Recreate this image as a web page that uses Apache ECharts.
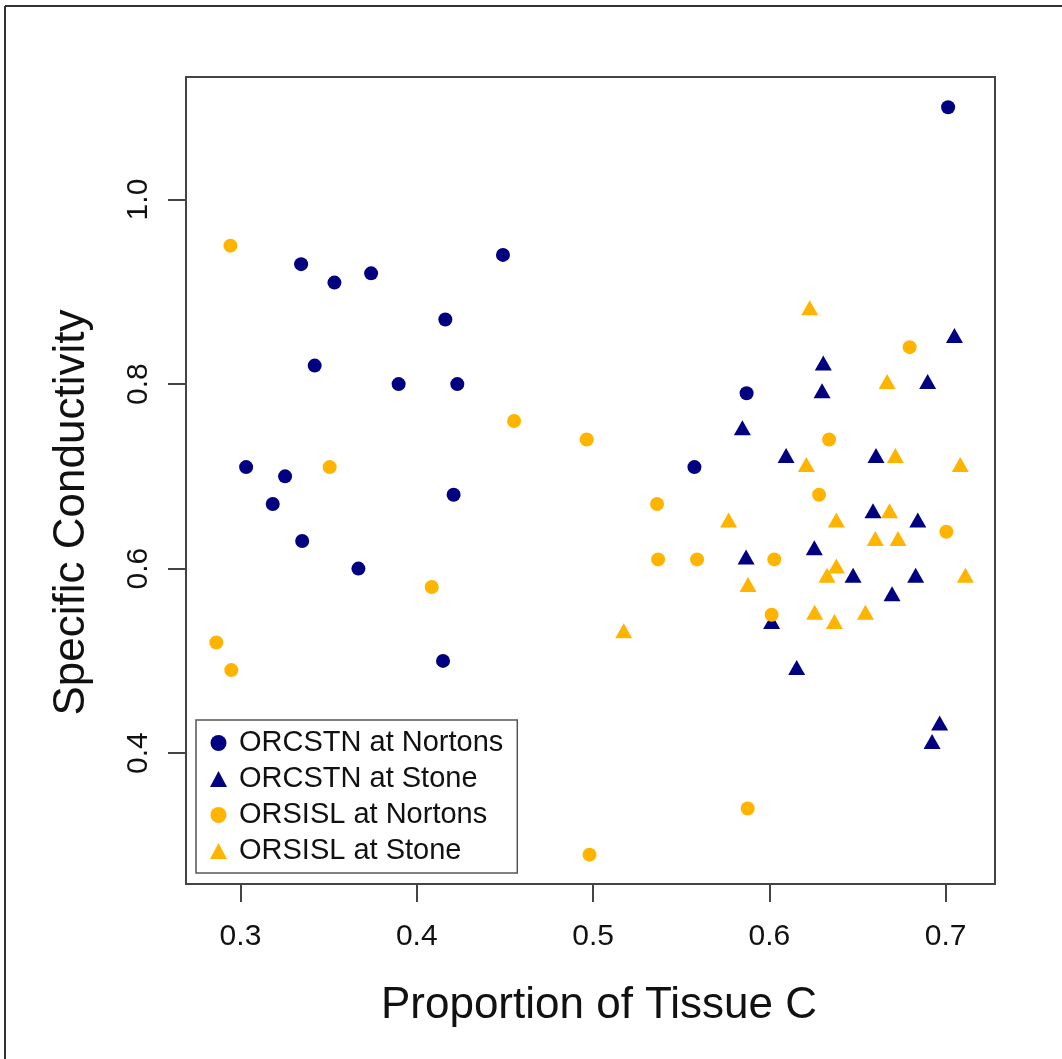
<!DOCTYPE html>
<html>
<head>
<meta charset="utf-8">
<script src="https://cdn.jsdelivr.net/npm/echarts@6/dist/echarts.min.js"></script>
<style>
html,body{margin:0;padding:0;background:#fff;}
#chart{width:1062px;height:1059px;}
</style>
</head>
<body>
<div id="chart"></div>
<script>
// ---- data (x = proportion of tissue C, y = specific conductivity) ----
const orcstnNortons = [
  [0.3344,0.93],[0.3533,0.91],[0.3741,0.92],[0.4489,0.94],[0.4162,0.87],[0.3421,0.82],
  [0.3897,0.80],[0.4230,0.80],[0.3032,0.71],[0.3253,0.70],[0.4209,0.68],[0.3183,0.67],
  [0.3350,0.63],[0.3669,0.60],[0.4149,0.50],[0.7014,1.10],[0.5871,0.79],[0.5575,0.71]
];
const orcstnStone = [
  [0.7050,0.85],[0.6306,0.82],[0.6898,0.80],[0.6299,0.79],[0.5847,0.75],[0.6095,0.72],
  [0.6605,0.72],[0.6588,0.66],[0.6842,0.65],[0.6255,0.62],[0.5868,0.61],[0.6475,0.59],
  [0.6830,0.59],[0.6696,0.57],[0.6013,0.54],[0.6155,0.49],[0.6966,0.43],[0.6923,0.41]
];
const orsislNortons = [
  [0.2943,0.95],[0.4552,0.76],[0.3506,0.71],[0.4085,0.58],[0.2863,0.52],[0.2948,0.49],
  [0.6796,0.84],[0.4964,0.74],[0.6339,0.74],[0.6282,0.68],[0.5363,0.67],[0.7004,0.64],
  [0.5369,0.61],[0.5590,0.61],[0.6028,0.61],[0.6013,0.55],[0.5877,0.34],[0.4980,0.29]
];
const orsislStone = [
  [0.6229,0.88],[0.6668,0.80],[0.6715,0.72],[0.6210,0.71],[0.7083,0.71],[0.6682,0.66],
  [0.5769,0.65],[0.6380,0.65],[0.6601,0.63],[0.6730,0.63],[0.6380,0.60],[0.6327,0.59],
  [0.7112,0.59],[0.5879,0.58],[0.6257,0.55],[0.6545,0.55],[0.6369,0.54],[0.5174,0.53]
];
const seriesNames = ['ORCSTN at Nortons','ORCSTN at Stone','ORSISL at Nortons','ORSISL at Stone'];
const xTicks = [0.3,0.4,0.5,0.6,0.7];
const yTicks = [0.4,0.6,0.8,1.0];
const xRange = [0.2691, 0.7280];
const yRange = [0.2582, 1.1328];
const xTitle = 'Proportion of Tissue C';
const yTitle = 'Specific Conductivity';

const NAVY = '#000080';
const ORANGE = '#FFB400';
const FONT = '"Liberation Sans", Arial, Helvetica, sans-serif';

const chart = echarts.init(document.getElementById('chart'), null, {renderer:'canvas'});

function circleSeries(name, data, color){
  return {name, type:'scatter', data, symbol:'circle', symbolSize:14,
    itemStyle:{color, opacity:1}, emphasis:{disabled:true}};
}
function triSeries(name, data, color){
  return {name, type:'scatter', data, symbol:'triangle', symbolSize:[17,15],
    symbolOffset:[0,-2.5], itemStyle:{color, opacity:1}, emphasis:{disabled:true}};
}

const option = {
  backgroundColor:'#ffffff',
  animation:false,
  textStyle:{fontFamily:FONT},
  grid:{left:186, right:67, top:77, bottom:175, show:true, borderColor:'#444', borderWidth:2, backgroundColor:'transparent'},
  xAxis:{
    type:'value', min:xRange[0], max:xRange[1],
    name:xTitle, nameLocation:'middle', nameGap:100,
    nameTextStyle:{fontSize:44, color:'#111', fontFamily:FONT, padding:[0,0,0,17]},
    axisLine:{show:false},
    axisTick:{show:true, length:18, inside:false, customValues:xTicks, lineStyle:{color:'#444', width:2}},
    axisLabel:{show:true, customValues:xTicks, margin:38, fontSize:30, color:'#111', fontFamily:FONT,
      formatter:v=>v.toFixed(1)},
    splitLine:{show:false}
  },
  yAxis:{
    type:'value', min:yRange[0], max:yRange[1],
    name:yTitle, nameLocation:'middle', nameGap:92, nameRotate:90,
    nameTextStyle:{fontSize:44, color:'#111', fontFamily:FONT, padding:[0,64,0,0]},
    axisLine:{show:false},
    axisTick:{show:true, length:18, inside:false, customValues:yTicks, lineStyle:{color:'#444', width:2}},
    axisLabel:{show:true, customValues:yTicks, rotate:90, margin:32, fontSize:30, color:'#111', fontFamily:FONT,
      formatter:v=>v.toFixed(1)},
    splitLine:{show:false}
  },
  legend:{
    show:true, orient:'vertical', left:196, top:720,
    padding:[8,14,7,14], itemGap:6, itemWidth:17, itemHeight:16,
    borderColor:'#555', borderWidth:1.5, backgroundColor:'#fff',
    textStyle:{fontSize:29, color:'#111', fontFamily:FONT, lineHeight:30, padding:[0,0,0,7]},
    data:[
      {name:seriesNames[0], icon:'circle'},
      {name:seriesNames[1], icon:'triangle'},
      {name:seriesNames[2], icon:'circle'},
      {name:seriesNames[3], icon:'triangle'}
    ],
    selectedMode:false
  },
  graphic:[
    {type:'line', shape:{x1:5, y1:6, x2:1062, y2:6}, style:{stroke:'#333', lineWidth:2}, silent:true},
    {type:'line', shape:{x1:5, y1:6, x2:5, y2:1059}, style:{stroke:'#333', lineWidth:2}, silent:true}
  ],
  series:[
    circleSeries(seriesNames[0], orcstnNortons, NAVY),
    triSeries(seriesNames[1], orcstnStone, NAVY),
    circleSeries(seriesNames[2], orsislNortons, ORANGE),
    triSeries(seriesNames[3], orsislStone, ORANGE)
  ]
};
chart.setOption(option);
</script>
</body>
</html>
